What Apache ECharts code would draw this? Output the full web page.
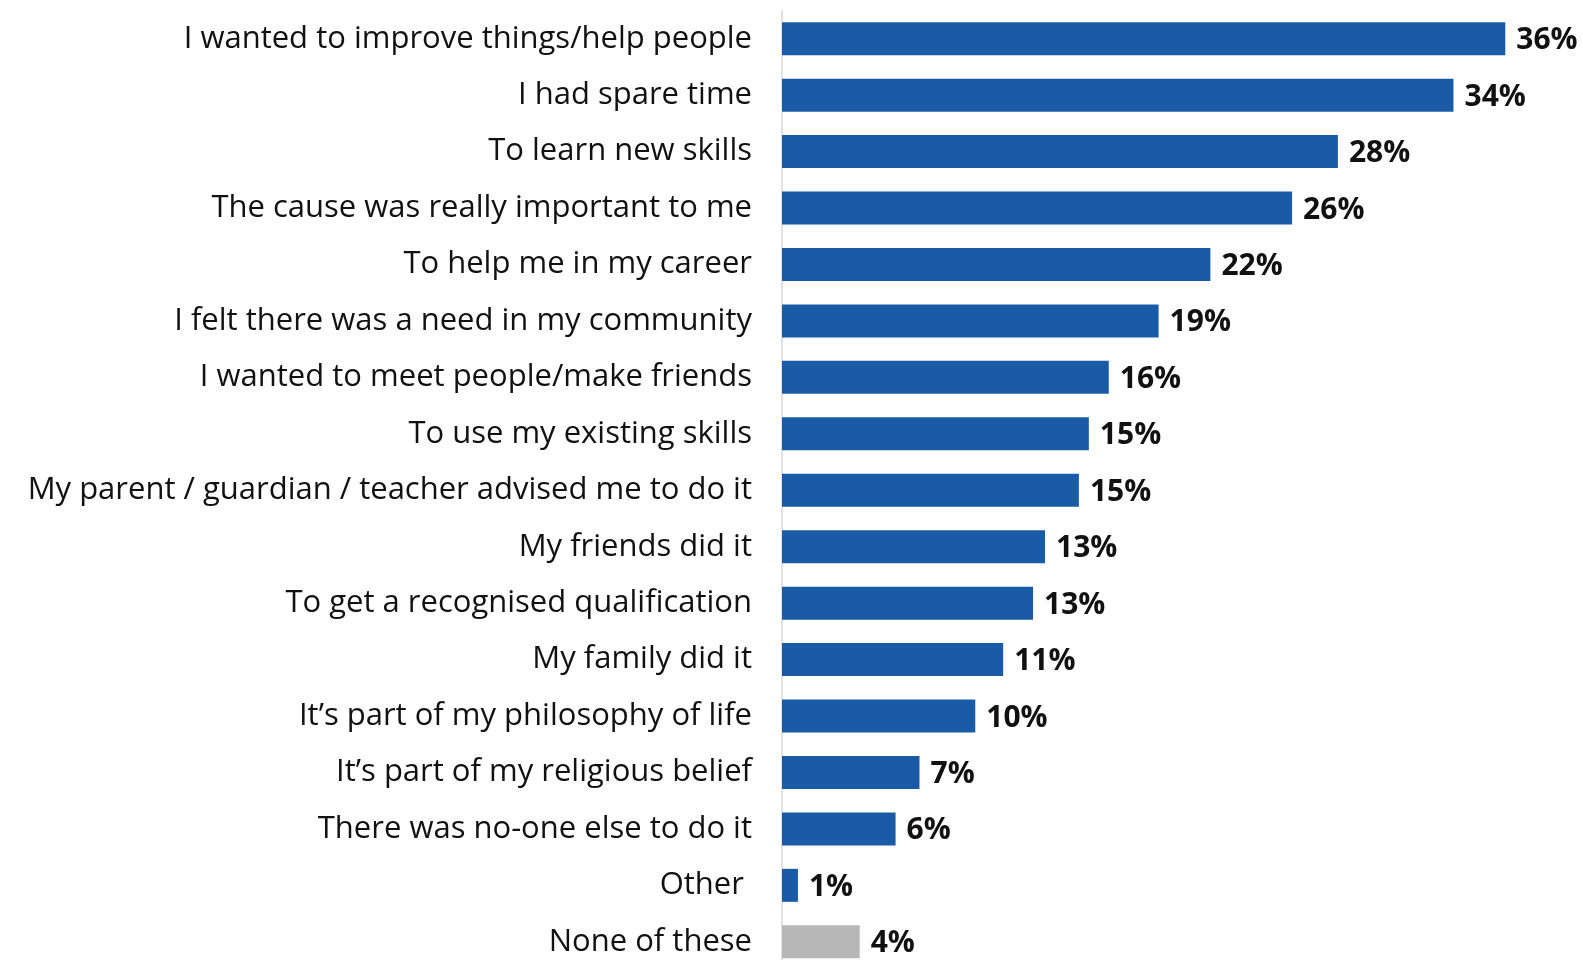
<!DOCTYPE html>
<html>
<head>
<meta charset="utf-8">
<title>Reasons for volunteering</title>
<script src="https://cdn.jsdelivr.net/npm/echarts@6/dist/echarts.min.js"></script>
<style>
  html, body { margin: 0; padding: 0; background: #ffffff; }
  #chart { width: 1583px; height: 960px; }
</style>
</head>
<body>
<div id="chart"></div>
<script>
// Reasons given for volunteering (share of respondents, %)
const categories = [
  'I wanted to improve things/help people',
  'I had spare time',
  'To learn new skills',
  'The cause was really important to me',
  'To help me in my career',
  'I felt there was a need in my community',
  'I wanted to meet people/make friends',
  'To use my existing skills',
  'My parent / guardian / teacher advised me to do it',
  'My friends did it',
  'To get a recognised qualification',
  'My family did it',
  'It\u2019s part of my philosophy of life',
  'It\u2019s part of my religious belief',
  'There was no-one else to do it',
  'Other ',
  'None of these'
];
const values = [36.3, 33.7, 27.9, 25.6, 21.5, 18.9, 16.4, 15.4, 14.9, 13.2, 12.6, 11.1, 9.7, 6.9, 5.7, 0.8, 3.9];
const neutralCategory = 'None of these';

const BLUE = '#1a5ba8';
const GREY = '#b7b7b7';
const FONT = '"Open Sans", sans-serif';

const seriesData = values.map((v, i) => ({
  value: v,
  itemStyle: { color: categories[i] === neutralCategory ? GREY : BLUE }
}));

const chart = echarts.init(document.getElementById('chart'), null, { renderer: 'canvas' });
chart.setOption({
  animation: false,
  backgroundColor: '#ffffff',
  // the last row runs a little past the bottom edge of the canvas
  grid: {
    left: 782, right: 4, top: 10.5, height: 959.5,
    containLabel: false,
    outerBoundsMode: 'none'
  },
  xAxis: {
    type: 'value',
    min: 0,
    max: 40,
    show: false
  },
  yAxis: {
    type: 'category',
    data: categories,
    inverse: true,
    axisLine: { show: true, lineStyle: { color: '#d9d9d9', width: 1.5 } },
    axisTick: { show: false },
    axisLabel: {
      margin: 30,
      color: '#111111',
      fontFamily: FONT,
      fontSize: 31,
      fontWeight: 'normal',
      padding: [4, 0, 0, 0]
    }
  },
  series: [{
    type: 'bar',
    data: seriesData,
    barWidth: 33,
    label: {
      show: true,
      position: 'right',
      distance: 11,
      offset: [0, 2],
      color: '#111111',
      fontFamily: FONT,
      fontSize: 30,
      fontWeight: 'bold',
      formatter: p => Math.round(p.value) + '%'
    }
  }]
});
</script>
</body>
</html>
